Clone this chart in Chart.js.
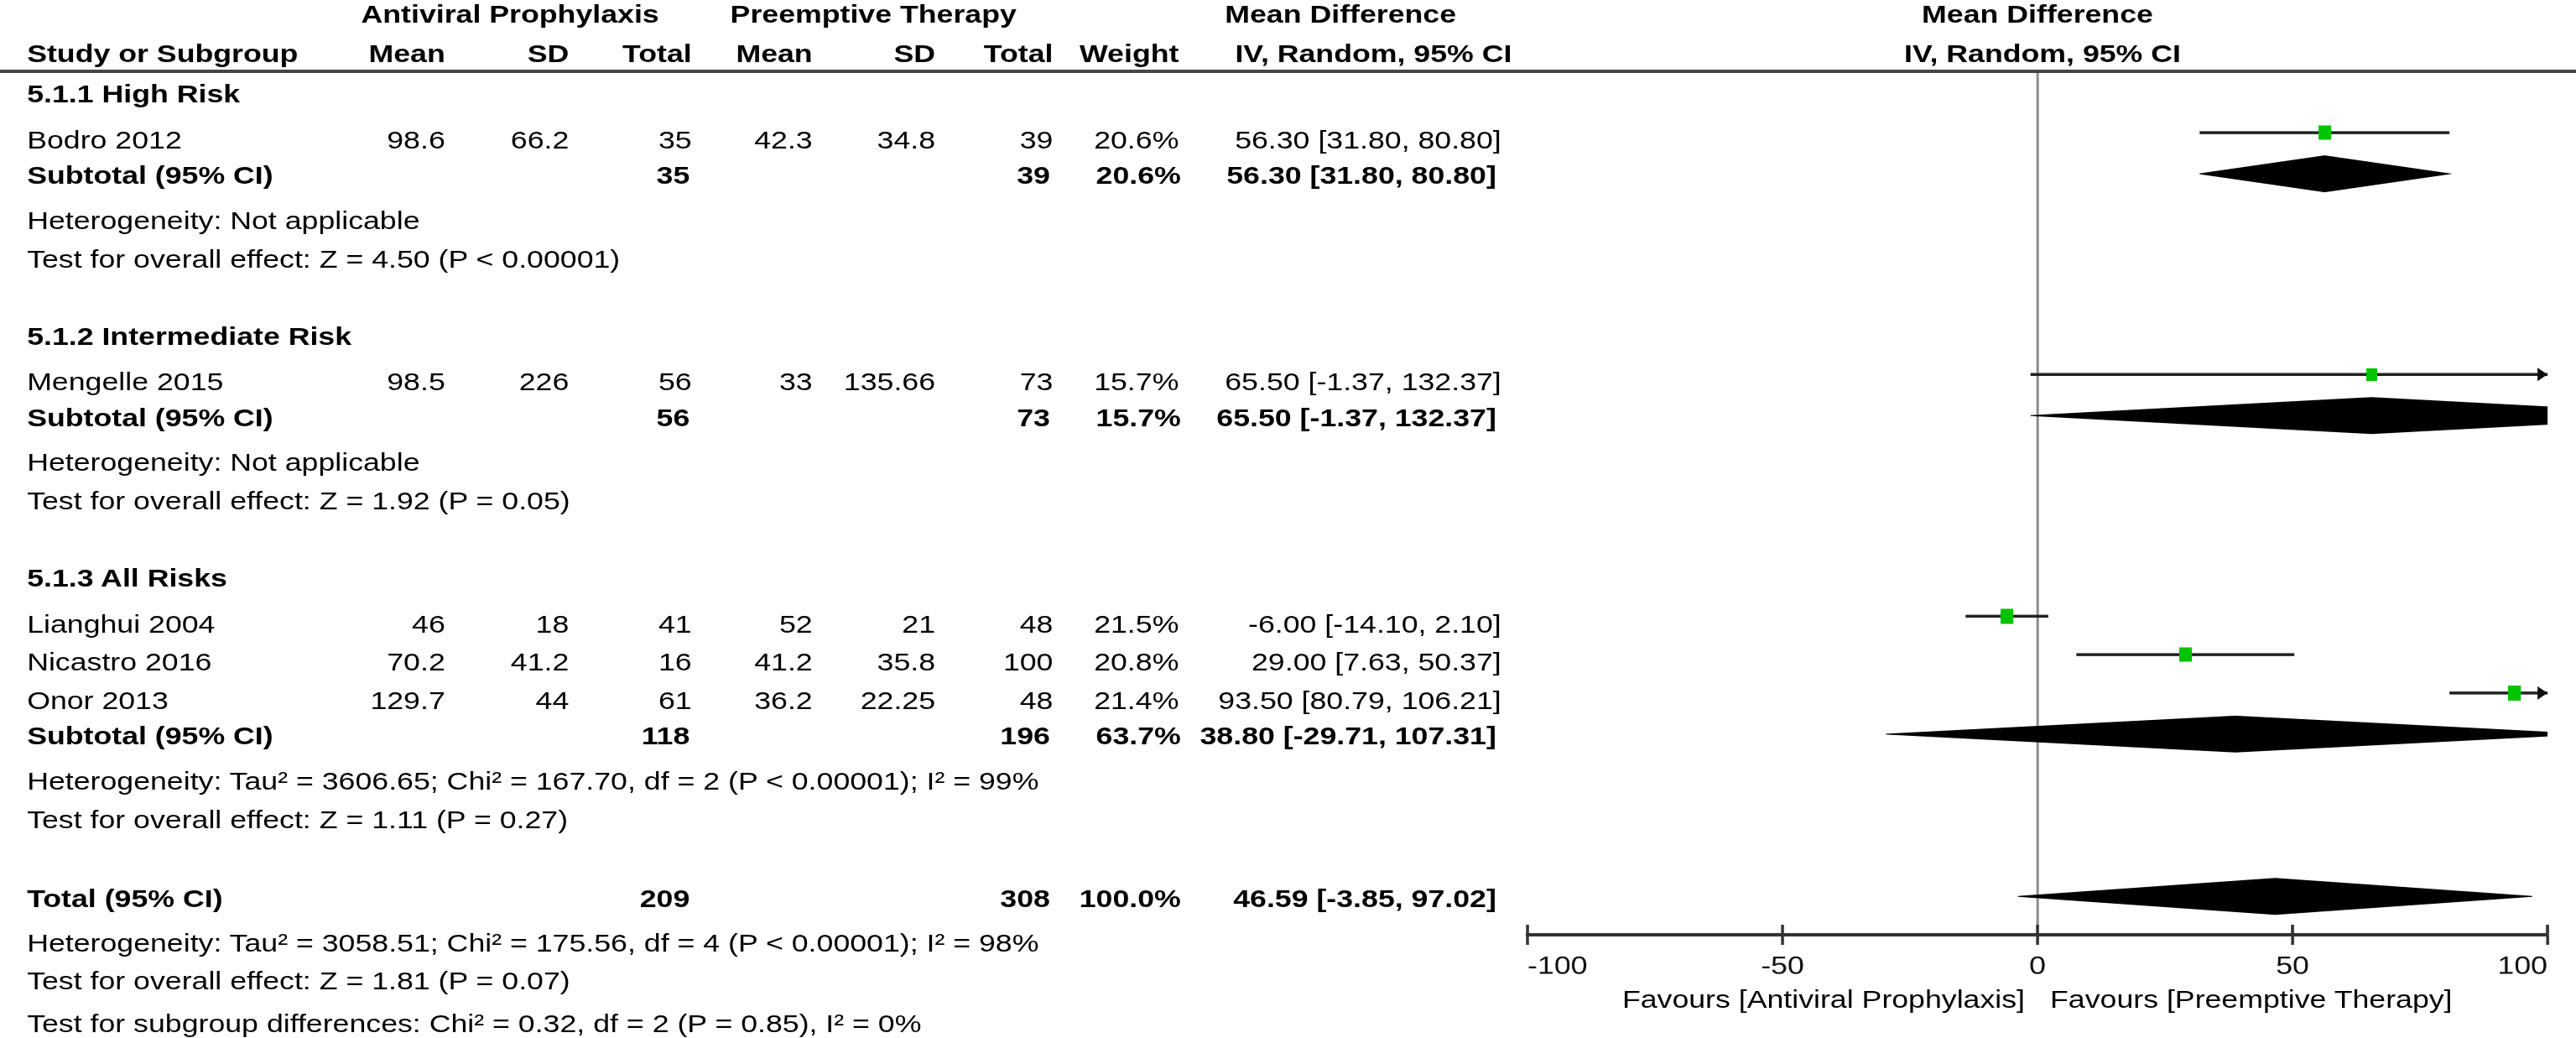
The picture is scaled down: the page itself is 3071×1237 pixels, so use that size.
<!DOCTYPE html>
<html>
<head>
<meta charset="utf-8">
<title>Forest plot</title>
<script src="https://cdn.jsdelivr.net/npm/chart.js@4.4.1/dist/chart.umd.min.js"></script>
<style>
  html, body { margin: 0; padding: 0; background: #fff; }
  body { width: 3071px; height: 1237px; overflow: hidden; position: relative; }
  /* the source figure is stretched horizontally, so the whole page is drawn narrow and widened */
  #page {
    position: absolute; left: 0; top: 0; width: 2581px; height: 1237px;
    transform: scaleX(1.19); transform-origin: 0 0;
    font-family: 'Liberation Sans', Arial, sans-serif; font-size: 30px; color: #000;
  }
  #plot { position: absolute; left: 0; top: 0; }
  .t { position: absolute; white-space: nowrap; line-height: 36px; height: 36px; }
  .b { font-weight: bold; }
  #rule { position: absolute; left: 0; width: 2581px; height: 4px; background: #444; }
</style>
</head>
<body>
<div id="page">
  <canvas id="plot" width="2581" height="1237"></canvas>
  <div id="rule"></div>
  <div id="labels"></div>
</div>
<script>
// studies
const studies = ['Bodro 2012', 'Mengelle 2015', 'Lianghui 2004', 'Nicastro 2016', 'Onor 2013'];
const studyGroup = [0, 1, 2, 2, 2];
const apMean = [98.6, 98.5, 46, 70.2, 129.7];
const apSD = [66.2, 226, 18, 41.2, 44];
const apTotal = [35, 56, 41, 16, 61];
const ptMean = [42.3, 33, 52, 41.2, 36.2];
const ptSD = [34.8, 135.66, 21, 35.8, 22.25];
const ptTotal = [39, 73, 48, 100, 48];
const weight = [20.6, 15.7, 21.5, 20.8, 21.4];
const md = [56.30, 65.50, -6.00, 29.00, 93.50];
const ciLow = [31.80, -1.37, -14.10, 7.63, 80.79];
const ciHigh = [80.80, 132.37, 2.10, 50.37, 106.21];

// subgroups
const groups = ['5.1.1 High Risk', '5.1.2 Intermediate Risk', '5.1.3 All Risks'];
const subApTotal = [35, 56, 118];
const subPtTotal = [39, 73, 196];
const subWeight = [20.6, 15.7, 63.7];
const subMd = [56.30, 65.50, 38.80];
const subLow = [31.80, -1.37, -29.71];
const subHigh = [80.80, 132.37, 107.31];
const subHet = [
  'Heterogeneity: Not applicable',
  'Heterogeneity: Not applicable',
  'Heterogeneity: Tau² = 3606.65; Chi² = 167.70, df = 2 (P < 0.00001); I² = 99%'
];
const subEffect = [
  'Test for overall effect: Z = 4.50 (P < 0.00001)',
  'Test for overall effect: Z = 1.92 (P = 0.05)',
  'Test for overall effect: Z = 1.11 (P = 0.27)'
];

// overall
const totalAp = 209;
const totalPt = 308;
const totalWeight = 100.0;
const totalMd = 46.59;
const totalLow = -3.85;
const totalHigh = 97.02;
const totalNotes = [
  'Heterogeneity: Tau² = 3058.51; Chi² = 175.56, df = 4 (P < 0.00001); I² = 98%',
  'Test for overall effect: Z = 1.81 (P = 0.07)',
  'Test for subgroup differences: Chi² = 0.32, df = 2 (P = 0.85), I² = 0%'
];

// axis
const xMin = -100;
const xMax = 100;
const xTicks = [-100, -50, 0, 50, 100];
const favours = ['Favours [Antiviral Prophylaxis]', 'Favours [Preemptive Therapy]'];

// ---- layout (page units before the horizontal stretch) ----
const FONT = "'Liberation Sans', Arial, sans-serif";
const col = { left: 27, apMean: 446, apSD: 570, apTotal: 693, ptMean: 814, ptSD: 937, ptTotal: 1055, weight: 1181, ci: 1504 };
const colBold = { apTotal: 691, ptTotal: 1052, weight: 1183, ci: 1499 };
const headSlot = [-1.49, -0.46];
const studyLift = 0.2;     // CI lines sit a little above the text centre
const diamondLift = 0.05;
const diamondHalf = 0.47;

// row positions in line units (0 = header rule)
const titleSlot = [], studySlot = [], subSlot = [], hetSlot = [], effSlot = [];
let s = 0.6;
groups.forEach((g, gi) => {
  titleSlot[gi] = s; s += 1.2;
  studies.forEach((n, i) => { if (studyGroup[i] === gi) { studySlot[i] = s; s += 1.0; } });
  s -= 0.08;
  subSlot[gi] = s; s += 1.18;
  hetSlot[gi] = s; s += 1.0;
  effSlot[gi] = s; s += 2.0;
});
s += 0.05;
const totalSlot = s;
const totalNoteSlot = [s + 1.16, s + 2.16, s + 3.26];

const fmt2 = v => v.toFixed(2);
const ciText = (m, l, h) => fmt2(m) + ' [' + fmt2(l) + ', ' + fmt2(h) + ']';
const pct = v => v.toFixed(1) + '%';

// ---- datasets ----
function markerImage(w) {
  const h = Math.sqrt(w) * 3.8;
  const c = document.createElement('canvas');
  c.width = Math.round(h * 0.76);
  c.height = Math.round(h);
  const g = c.getContext('2d');
  g.fillStyle = '#00c400';
  g.fillRect(0, 0, c.width, c.height);
  return c;
}

function diamond(m, l, h, slot) {
  const y = slot - diamondLift;
  return [{ x: l, y: y }, { x: m, y: y - diamondHalf }, { x: h, y: y }, { x: m, y: y + diamondHalf }, { x: l, y: y }];
}

const datasets = [];
datasets.push({
  label: 'markers',
  data: studies.map((n, i) => ({ x: md[i], y: studySlot[i] - studyLift })),
  showLine: false,
  pointStyle: weight.map(markerImage),
  pointRadius: 5,
  order: 0
});
studies.forEach((n, i) => {
  datasets.push({
    label: n,
    data: [{ x: ciLow[i], y: studySlot[i] - studyLift }, { x: ciHigh[i], y: studySlot[i] - studyLift }],
    borderColor: '#222',
    borderWidth: 3.5,
    pointRadius: 0,
    clip: 0,
    order: 1
  });
});
groups.forEach((g, gi) => {
  datasets.push({
    label: 'Subtotal ' + g,
    data: diamond(subMd[gi], subLow[gi], subHigh[gi], subSlot[gi]),
    borderColor: '#000',
    backgroundColor: '#000',
    borderWidth: 1,
    fill: 'shape',
    pointRadius: 0,
    tension: 0,
    clip: 0,
    order: 1
  });
});
datasets.push({
  label: 'Total',
  data: diamond(totalMd, totalLow, totalHigh, totalSlot),
  borderColor: '#000',
  backgroundColor: '#000',
  borderWidth: 1,
  fill: 'shape',
  pointRadius: 0,
  tension: 0,
  clip: 0,
  order: 1
});

// arrow heads for intervals running past the axis, and tick marks above the axis
const forestExtras = {
  id: 'forestExtras',
  afterDatasetsDraw(chart) {
    const { ctx, chartArea, scales: { x, y } } = chart;
    ctx.save();
    ctx.fillStyle = '#111';
    const xr = x.getPixelForValue(xMax);
    studies.forEach((n, i) => {
      if (ciHigh[i] <= xMax) return;
      const py = y.getPixelForValue(studySlot[i] - studyLift);
      ctx.beginPath();
      ctx.moveTo(xr, py);
      ctx.lineTo(xr - 10, py - 8);
      ctx.lineTo(xr - 10, py + 8);
      ctx.closePath();
      ctx.fill();
    });
    ctx.strokeStyle = '#333';
    ctx.lineWidth = 3;
    ctx.beginPath();
    xTicks.forEach(v => {
      const px = x.getPixelForValue(v);
      ctx.moveTo(px, chartArea.bottom - 12);
      ctx.lineTo(px, chartArea.bottom);
    });
    ctx.stroke();
    ctx.restore();
  }
};

const chart = new Chart(document.getElementById('plot'), {
  type: 'line',
  data: { datasets: datasets },
  options: {
    responsive: false,
    animation: false,
    devicePixelRatio: 2,
    events: [],
    layout: { padding: { left: 1530.3, right: 28.9, top: 85, bottom: 0 } },
    plugins: { legend: { display: false }, tooltip: { enabled: false } },
    scales: {
      x: {
        type: 'linear',
        min: xMin,
        max: xMax,
        afterBuildTicks: sc => { sc.ticks = xTicks.map(v => ({ value: v })); },
        afterFit: sc => { sc.height = 123; },
        ticks: {
          align: 'inner',
          autoSkip: false,
          maxRotation: 0,
          padding: 8,
          color: '#111',
          font: { family: FONT, size: 30 }
        },
        grid: {
          drawOnChartArea: true,
          color: c => (c.tick && c.tick.value === 0 ? '#8c8c8c' : 'rgba(0,0,0,0)'),
          lineWidth: 2.5,
          tickColor: '#333',
          tickWidth: 3,
          tickLength: 12
        },
        border: { display: true, color: '#333', width: 4 }
      },
      y: { type: 'linear', min: 0, max: 22.5, reverse: true, display: false }
    }
  },
  plugins: [forestExtras]
});

// ---- table text, placed with the chart's own y scale ----
const box = document.getElementById('labels');
const yPx = v => chart.scales.y.getPixelForValue(v);

function put(text, x, py, align, bold) {
  const d = document.createElement('div');
  d.className = 't' + (bold ? ' b' : '');
  d.textContent = text;
  d.style.top = (py - 18) + 'px';
  if (align === 'right') {
    d.style.left = (x - 800) + 'px'; d.style.width = '800px'; d.style.textAlign = 'right';
  } else if (align === 'center') {
    d.style.left = (x - 400) + 'px'; d.style.width = '800px'; d.style.textAlign = 'center';
  } else {
    d.style.left = x + 'px';
  }
  box.appendChild(d);
}

document.getElementById('rule').style.top = (yPx(0) - 2) + 'px';

const h1 = yPx(headSlot[0]), h2 = yPx(headSlot[1]);
const zeroPx = chart.scales.x.getPixelForValue(0);
put('Antiviral Prophylaxis', 511, h1, 'center', true);
put('Preemptive Therapy', 875, h1, 'center', true);
put('Mean Difference', 1343, h1, 'center', true);
put('Mean Difference', zeroPx, h1, 'center', true);
put('Study or Subgroup', col.left, h2, 'left', true);
put('Mean', col.apMean, h2, 'right', true);
put('SD', col.apSD, h2, 'right', true);
put('Total', col.apTotal, h2, 'right', true);
put('Mean', col.ptMean, h2, 'right', true);
put('SD', col.ptSD, h2, 'right', true);
put('Total', col.ptTotal, h2, 'right', true);
put('Weight', col.weight, h2, 'right', true);
put('IV, Random, 95% CI', 1376, h2, 'center', true);
put('IV, Random, 95% CI', zeroPx + 5, h2, 'center', true);

groups.forEach((g, gi) => {
  put(g, col.left, yPx(titleSlot[gi]), 'left', true);
  studies.forEach((n, i) => {
    if (studyGroup[i] !== gi) return;
    const py = yPx(studySlot[i]);
    put(n, col.left, py, 'left', false);
    put(String(apMean[i]), col.apMean, py, 'right', false);
    put(String(apSD[i]), col.apSD, py, 'right', false);
    put(String(apTotal[i]), col.apTotal, py, 'right', false);
    put(String(ptMean[i]), col.ptMean, py, 'right', false);
    put(String(ptSD[i]), col.ptSD, py, 'right', false);
    put(String(ptTotal[i]), col.ptTotal, py, 'right', false);
    put(pct(weight[i]), col.weight, py, 'right', false);
    put(ciText(md[i], ciLow[i], ciHigh[i]), col.ci, py, 'right', false);
  });
  const ps = yPx(subSlot[gi]);
  put('Subtotal (95% CI)', col.left, ps, 'left', true);
  put(String(subApTotal[gi]), colBold.apTotal, ps, 'right', true);
  put(String(subPtTotal[gi]), colBold.ptTotal, ps, 'right', true);
  put(pct(subWeight[gi]), colBold.weight, ps, 'right', true);
  put(ciText(subMd[gi], subLow[gi], subHigh[gi]), colBold.ci, ps, 'right', true);
  put(subHet[gi], col.left, yPx(hetSlot[gi]), 'left', false);
  put(subEffect[gi], col.left, yPx(effSlot[gi]), 'left', false);
});

const pt = yPx(totalSlot);
put('Total (95% CI)', col.left, pt, 'left', true);
put(String(totalAp), colBold.apTotal, pt, 'right', true);
put(String(totalPt), colBold.ptTotal, pt, 'right', true);
put(pct(totalWeight), colBold.weight, pt, 'right', true);
put(ciText(totalMd, totalLow, totalHigh), colBold.ci, pt, 'right', true);
totalNotes.forEach((t, k) => put(t, col.left, yPx(totalNoteSlot[k]), 'left', false));

const favY = chart.chartArea.bottom + 77;
put(favours[0], zeroPx - 12.6, favY, 'right', false);
put(favours[1], zeroPx + 12.6, favY, 'left', false);
</script>
</body>
</html>
